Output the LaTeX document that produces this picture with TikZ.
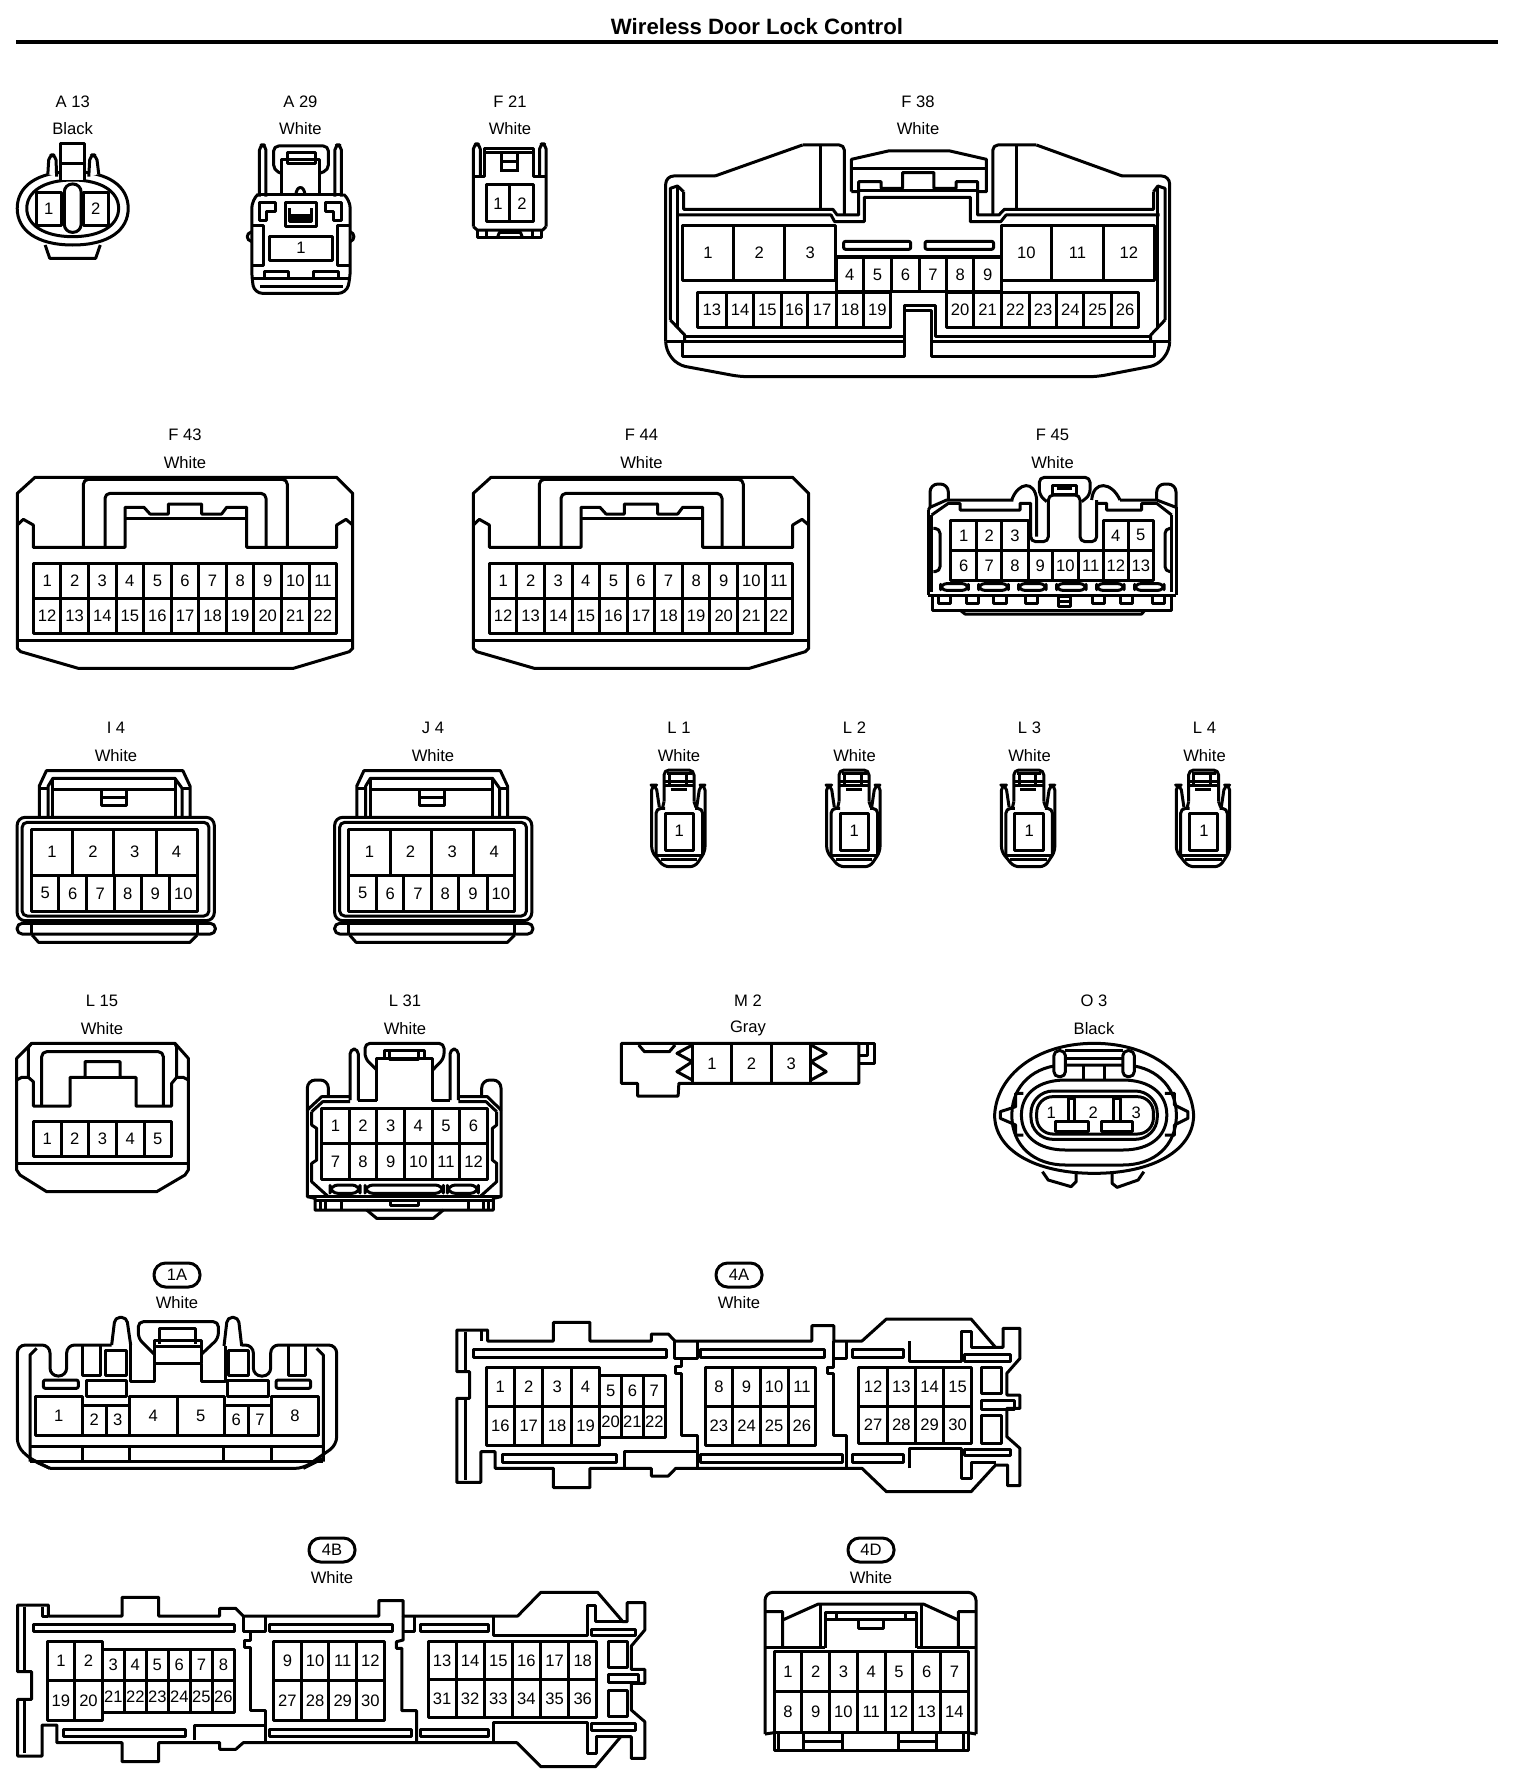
\documentclass[tikz,border=0pt]{standalone}
\usepackage{fontspec}
\setmainfont{Liberation Sans}
\newcounter{nodeno}
\tikzset{
 conn/.style={line width=1.5pt,line join=round},
 lab/.style={font=\fontsize{8.3}{10}\selectfont,inner sep=0pt},
 rc/.style={rounded corners=2.5pt},
 rcb/.style={rounded corners=4pt},
 slot/.style={rounded corners=1pt},
 zm/.style n args={3}{shift={(#1,#2)},x=#3,y=-0.16667pt},
 pill/.style={draw,line width=1.5pt,rounded corners=5.8pt,minimum width=23pt,minimum height=12pt,inner sep=0pt,font=\fontsize{8.3}{10}\selectfont}
}
\newcommand{\tcap}[4]{\stepcounter{nodeno}\node[lab] (cap\thenodeno) at (#1,#2) {#3};\stepcounter{nodeno}\node[lab] (col\thenodeno) at (#1,#2+27.5) {#4};}
\newcommand{\tpill}[4]{\stepcounter{nodeno}\node[pill] (pill\thenodeno) at (#1,#2) {#3};\stepcounter{nodeno}\node[lab] (col\thenodeno) at (#1,#2+27.5) {#4};}
\newcommand{\numat}[3]{\stepcounter{nodeno}\node[lab] (n\thenodeno) at (#1,#2) {#3};}
\newcommand{\cel}[5]{\draw (#1,#3) rectangle (#2,#4);\stepcounter{nodeno}\node[lab] (n\thenodeno) at ({(#1+#2)/2},{(#3+#4)/2}) {#5};}
\newcommand{\cgrid}[6]{%
 \draw (#1,#3) rectangle (#2,#4);
 \foreach \gi in {1,...,#6}{%
  \pgfmathsetmacro\gxa{#1+(#2-#1)*(\gi-1)/#6}%
  \pgfmathsetmacro\gxm{#1+(#2-#1)*(\gi-0.5)/#6}%
  \pgfmathtruncatemacro\glab{#5+\gi-1}%
  \ifnum\gi>1 \draw (\gxa,#3)--(\gxa,#4);\fi
  \stepcounter{nodeno}\node[lab] (n\thenodeno) at (\gxm,{(#3+#4)/2}) {\glab};
 }%
}
\newcommand{\formF}{%
 \draw (105,172)--(1010,172)--(1058,220)--(1058,685)--(1048,695)--(880,745)--(235,745)--(62,695)--(52,685)--(52,220)--cycle;
 \draw (52,662)--(1058,662);
 \draw (52,315)--(70,298)--(100,315)--(100,382)--(375,382)--(375,262)--(432,262)--(450,282)--(505,282)--(505,252)--(605,252)--(605,282)--(665,282)--(680,262)--(740,262)--(740,382)--(1010,382)--(1010,315)--(1038,298)--(1058,315);
 \draw (375,295)--(740,295);
 \draw[rc] (250,382)--(250,178)--(862,178)--(862,382);
 \draw[rc] (315,382)--(315,220)--(798,220)--(798,382);
 \cgrid{100}{1010}{430}{535}{1}{11}
 \cgrid{100}{1010}{535}{640}{12}{11}
}
\newcommand{\formI}{%
 \draw[rcb] (48,322) rectangle (600,632);
 \draw[rc] (62,337) rectangle (585,618);
 \draw (110,322)--(110,228)--(130,182)--(512,182)--(532,228)--(532,322);
 \draw (135,318)--(135,228)--(148,205)--(490,205)--(510,235)--(510,318);
 \draw (110,235)--(135,235) (510,235)--(532,235);
 \draw (148,205)--(148,318) (490,205)--(490,318);
 \draw (148,237)--(490,237);
 \draw (285,240)--(285,287)--(355,287)--(355,240) (285,262)--(355,262);
 \draw[rc] (48,640) rectangle (603,672);
 \draw (88,640)--(88,672) (552,640)--(552,672);
 \draw (90,675)--(108,697)--(532,697)--(552,675);
}
\newcommand{\formL}{%
 \draw[rc] (72,245)--(72,150)--(162,150)--(162,245);
 \draw (72,185)--(162,185) (72,195)--(162,195);
 \draw (88,160)--(88,195) (138,160)--(138,195) (82,160)--(155,160);
 \draw (92,208)--(140,208);
 \draw (72,245)--(68,262) (162,245)--(168,262);
 \draw[rc] (58,262)--(48,195)--(35,195)--(35,395)--(72,440)--(165,440)--(195,395)--(195,195)--(180,195)--(170,262);
 \draw[rc] (48,405)--(48,265)--(75,265) (165,265)--(188,265)--(188,405);
 \draw (48,405)--(188,405) (62,418)--(172,418);
 \draw (75,280) rectangle (160,390);
 \numat{118}{332}{1}
}
\begin{document}
\begin{tikzpicture}[x=0.5pt,y=-0.5pt,conn]
\useasboundingbox (0,0) rectangle (1520,1780);
\fill[white] (0,0) rectangle (1520,1780);
\node[font=\bfseries\fontsize{11.1}{13}\selectfont,inner sep=0pt] (title) at (757,27) {Wireless Door Lock Control};
\coordinate (ruleL) at (16,42); \coordinate (ruleR) at (1498,42);
\draw[line width=2.2pt] (ruleL)--(ruleR);
% captions
\tcap{72.7}{101.5}{A 13}{Black}
\tcap{300.4}{101.5}{A 29}{White}
\tcap{510}{101.5}{F 21}{White}
\tcap{918}{101.5}{F 38}{White}
\tcap{185}{435}{F 43}{White}
\tcap{641.5}{435}{F 44}{White}
\tcap{1052.5}{435}{F 45}{White}
\tcap{116}{728}{I 4}{White}
\tcap{433}{728}{J 4}{White}
\tcap{679}{728}{L 1}{White}
\tcap{854.5}{728}{L 2}{White}
\tcap{1029.5}{728}{L 3}{White}
\tcap{1204.5}{728}{L 4}{White}
\tcap{102}{1001}{L 15}{White}
\tcap{405}{1001}{L 31}{White}
\tcap{748}{1001}{M 2}{Gray}
\tcap{1094}{1001}{O 3}{Black}
\tpill{177}{1275}{1A}{White}
\tpill{739}{1275}{4A}{White}
\tpill{332}{1550}{4B}{White}
\tpill{871}{1550}{4D}{White}
% A13
\begin{scope}[zm={0}{0}{0.19135pt}]
 \draw (190,515) .. controls (285,515) and (335,560) .. (335,625) .. controls (335,690) and (285,735) .. (190,735) .. controls (95,735) and (45,690) .. (45,625) .. controls (45,560) and (95,515) .. (190,515);
 \draw (190,540) .. controls (265,540) and (310,575) .. (310,625) .. controls (310,675) and (265,710) .. (190,710) .. controls (115,710) and (70,675) .. (70,625) .. controls (70,575) and (115,540) .. (190,540);
 \draw[rc,fill=white] (125,522)--(128,465)--(146,465)--(148,530);
 \draw[rc,fill=white] (232,530)--(235,465)--(252,465)--(258,522);
 \draw[fill=white] (158,540)--(158,432)--(222,432)--(222,540);
 \draw (158,490)--(222,490);
 \draw[rounded corners=4pt] (168,552) rectangle (212,697);
 \draw (118,735)--(130,775)--(250,775)--(262,735);
 \cel{95}{160}{577}{677}{1}
 \cel{218}{283}{577}{677}{2}
\end{scope}
% A29
\begin{scope}[zm={0}{0}{0.19135pt}]
 \draw[rcb] (672,585)--(658,600)--(658,835)--(665,880)--(905,880)--(915,835)--(915,600)--(900,585);
 \draw[rc] (678,590)--(678,435)--(695,435)--(695,590);
 \draw[rc] (875,590)--(875,435)--(892,435)--(892,590);
 \draw (678,585)--(892,585);
 \draw[rc] (735,520)--(715,510)--(715,438)--(858,438)--(858,510)--(835,520);
 \draw (735,585)--(735,480)--(835,480)--(835,585);
 \draw (752,458) rectangle (825,490);
 \draw (773,585) .. controls (775,555) and (795,555) .. (797,585);
 \draw (745,608) rectangle (828,680);
 \draw (757,625)--(757,665)--(815,665)--(815,625) (757,645)--(815,645) (757,655)--(815,655);
 \draw (678,608)--(720,608)--(720,635)--(697,635)--(697,660)--(678,660)--cycle;
 \draw (850,608)--(893,608)--(893,660)--(872,660)--(872,635)--(850,635)--cycle;
 \draw (658,675)--(688,675)--(688,795)--(658,795);
 \draw (915,675)--(882,675)--(882,795)--(915,795);
 \draw (658,695)..controls (642,700) and (642,720)..(658,725);
 \draw (915,695)..controls (928,700) and (928,720)..(915,725);
 \cel{703}{870}{708}{780}{1}
 \draw (660,835)--(915,835) (680,858)--(895,858);
 \draw (690,835)--(690,815)--(755,815)--(755,835) (820,835)--(820,815)--(885,815)--(885,835);
\end{scope}
% F21
\begin{scope}[zm={0}{0}{0.19135pt}]
 \draw[rc] (1237,680)--(1237,432)--(1255,432)--(1255,530);
 \draw[rc] (1410,530)--(1410,432)--(1427,432)--(1427,680);
 \draw (1237,680)--(1247,690)--(1418,690)--(1427,680);
 \draw (1237,530)--(1265,530)--(1265,445)--(1395,445)--(1395,530)--(1427,530);
 \draw (1265,458)--(1395,458);
 \draw (1310,460)--(1310,515) (1352,460)--(1352,515) (1310,485)--(1352,485) (1310,512)--(1352,512);
 \cgrid{1270}{1395}{555}{665}{1}{2}
 \draw (1247,690)--(1247,712)--(1415,712)--(1415,690);
 \draw (1270,690)--(1270,712) (1392,690)--(1392,712);
 \draw (1300,712)--(1305,697)--(1360,697)--(1365,712);
\end{scope}
% F38
\begin{scope}[zm={640}{80}{0.17857pt}]
 \draw[rcb] (72,785)--(72,288)--(210,288);
 \draw (210,288)--(455,195);
 \draw[rc] (455,195)--(572,195)--(572,405);
 \draw[rcb] (72,785)--(72,810)--(105,855)--(280,890)--(1280,890)--(1450,855)--(1483,810)--(1483,785);
 \draw[rcb] (1483,785)--(1483,288)--(1350,288);
 \draw (1350,288)--(1110,195);
 \draw[rc] (1110,195)--(988,195)--(988,405);
 \draw (505,195)--(505,388) (1055,195)--(1055,388);
 \draw (122,335)--(122,388)--(540,388)--(552,405)--(612,405)--(612,305)--(675,305)--(675,325)--(735,325)--(735,278)--(823,278)--(823,325)--(885,325)--(885,305)--(945,305)--(945,405)--(1005,405)--(1020,388)--(1438,388)--(1438,335);
 \draw (105,405)--(535,405)--(545,425)--(628,425)--(628,352)--(925,352)--(925,425)--(1010,425)--(1025,405)--(1455,405);
 \draw (592,335)--(592,238)--(695,213)--(868,213)--(970,238)--(970,335)--(945,335) (592,335)--(612,335);
 \draw (592,265)--(970,265);
 \draw (612,332)--(945,332);
 \draw (85,720)--(85,325)--(105,318)--(122,335);
 \draw (105,325)--(105,745);
 \draw (85,720)--(125,765)--(125,785);
 \draw (1470,720)--(1470,325)--(1450,318)--(1438,335);
 \draw (1450,325)--(1450,745);
 \draw (1470,720)--(1430,765)--(1430,785);
 \draw (125,770)--(740,770)--(740,675)--(828,675)--(828,770)--(1430,770);
 \draw (72,785)--(740,785) (820,785)--(1483,785);
 \draw (120,785)--(120,830)--(740,830)--(740,690)--(815,690)--(815,830)--(1440,830)--(1440,785);
 \foreach \a/\b/\l in {118/262/1,262/405/2,405/548/3,1012/1152/10,1152/1298/11,1298/1440/12}{\cel{\a}{\b}{437}{602}{\l}}
 \draw (548,530)--(1012,530);
 \foreach \a/\b/\l in {550/625/4,625/705/5,705/782/6,782/858/7,858/935/8,935/1012/9}{\cel{\a}{\b}{533}{635}{\l}}
 \foreach \a/\b/\l in {160/242/13,242/318/14,318/395/15,395/470/16,470/550/17,550/627/18,627/702/19,858/935/20,935/1012/21,1012/1090/22,1090/1167/23,1167/1243/24,1243/1320/25,1320/1397/26}{\cel{\a}{\b}{637}{742}{\l}}
 \draw[slot] (570,484) rectangle (758,508);
 \draw[slot] (798,484) rectangle (990,508);
\end{scope}
% F43 F44
\begin{scope}[zm={0}{420}{0.16667pt}] \formF \end{scope}
\begin{scope}[zm={456}{420}{0.16667pt}] \formF \end{scope}
% F45
\begin{scope}[zm={900}{420}{0.16667pt}]
 \draw[rcb] (90,262)--(90,192)--(145,192)--(145,240);
 \draw[rcb] (770,240)--(770,192)--(828,192)--(828,262);
 \draw (85,270)--(90,262)--(140,240)--(340,240);
 \draw (828,262)--(770,240)--(660,240);
 \draw (85,270)--(85,525) (828,262)--(828,525);
 \draw (85,525)--(828,525);
 \draw (95,285)--(95,515) (815,285)--(815,515);
 \draw (95,285)--(145,250)--(180,250)--(180,270)--(360,270)--(360,250)--(392,250)--(392,350);
 \draw (815,285)--(770,250)--(725,250)--(725,270)--(620,270)--(620,250)--(590,250);
 \draw (335,240) .. controls (355,185) and (405,180) .. (410,240)--(410,350);
 \draw (660,240) .. controls (635,185) and (580,180) .. (575,240);
 \draw[rc] (392,340)--(392,365)--(445,365)--(445,225)--(540,225)--(540,365)--(590,365)--(590,240);
 \draw[rc] (440,245)--(418,225)--(418,172)--(570,172)--(570,225)--(545,245);
 \draw (458,195) rectangle (530,222);
 \draw (470,205)--(515,205);
 \draw[rc] (100,325)--(120,325)--(120,455)--(100,455);
 \draw[rc] (810,325)--(795,325)--(795,455)--(810,455);
 \draw (98,530)--(98,570)--(815,570)--(815,530);
 \draw (180,570)--(195,582)--(725,582)--(735,570);
 \foreach \a/\b in {115/150,198/235,280/318,375/412,578/612,662/698,757/792}{\draw (\a,530)--(\a,550)--(\b,550)--(\b,530);}
 \draw (475,530) rectangle (510,558) (475,545)--(510,545);
 \foreach \a/\b in {122/205,236/325,356/438,470/558,590/672,704/792}{\draw[rounded corners=3pt] (\a,491) rectangle (\b,511);}
 \foreach \a/\b/\l in {152/230/1,230/305/2,305/385/3,610/685/4,685/760/5}{\cel{\a}{\b}{300}{392}{\l}}
 \foreach \a/\b/\l in {152/230/6,230/305/7,305/385/8,385/457/9,457/535/10,535/610/11,610/685/12,685/760/13}{\cel{\a}{\b}{392}{480}{\l}}
\end{scope}
% I4, J4
\begin{scope}[zm={0}{710}{0.17857pt}]
 \formI
 \foreach \a/\b/\l in {88/203/1,203/318/2,318/437/3,437/552/4}{\cel{\a}{\b}{358}{495}{\l}}
 \foreach \a/\b/\l in {88/165/5,165/242/6,242/320/7,320/395/8,395/475/9,475/552/10}{\cel{\a}{\b}{495}{605}{\l}}
\end{scope}
\begin{scope}[zm={317.5}{710}{0.17857pt}]
 \formI
 \foreach \a/\b/\l in {88/203/1,203/318/2,318/437/3,437/552/4}{\cel{\a}{\b}{358}{495}{\l}}
 \foreach \a/\b/\l in {88/165/5,165/242/6,242/320/7,320/395/8,395/475/9,475/552/10}{\cel{\a}{\b}{495}{605}{\l}}
\end{scope}
% L1-L4
\begin{scope}[zm={640}{720}{0.16667pt}] \formL \end{scope}
\begin{scope}[zm={815}{720}{0.16667pt}] \formL \end{scope}
\begin{scope}[zm={989.8}{720}{0.16667pt}] \formL \end{scope}
\begin{scope}[zm={1164.6}{720}{0.16667pt}] \formL \end{scope}
% L15
\begin{scope}[zm={0}{990}{0.16667pt}]
 \draw (95,160)--(525,160)--(565,205)--(565,540)--(555,555)--(470,605)--(140,605)--(60,555)--(50,540)--(50,205)--cycle;
 \draw (50,520)--(565,520);
 \draw (50,270)--(65,262)--(85,262)--(100,275)--(100,348)--(210,348)--(210,262)--(255,262)--(255,215)--(360,215)--(360,262)--(408,262)--(408,348)--(515,348)--(515,280)--(530,262)--(550,262)--(565,270);
 \draw (255,262)--(360,262);
 \draw (95,160)--(85,172)--(85,262) (525,160)--(530,172)--(530,262);
 \draw[rc] (125,345)--(125,185)--(490,185)--(490,345);
 \cgrid{100}{515}{393}{498}{1}{5}
\end{scope}
% L31
\begin{scope}[zm={0}{990}{0.16667pt}]
 \draw[rc] (1130,240)--(1095,205)--(1095,160)--(1332,160)--(1332,205)--(1298,240);
 \draw (1152,205)--(1152,182)--(1272,182)--(1272,205);
 \draw (1168,185)--(1168,208)--(1255,208)--(1255,185);
 \draw (1130,332)--(1130,205)--(1298,205)--(1298,332)--(1350,332);
 \draw (1130,332)--(1075,332);
 \draw[rc] (1050,330)--(1050,177)--(1075,177)--(1075,332);
 \draw[rc] (1350,330)--(1350,177)--(1375,177)--(1375,330);
 \draw[rcb] (922,360)--(922,270)--(985,270)--(985,320);
 \draw[rcb] (1445,320)--(1445,270)--(1503,270)--(1503,360);
 \draw (922,360)--(922,620)--(945,625)--(945,660)--(1480,660)--(1480,625)--(1503,620)--(1503,360);
 \draw (922,360)--(965,320)--(1050,320) (1503,360)--(1462,320)--(1375,320);
 \draw (935,365)--(968,335)--(1050,335) (1490,365)--(1458,335)--(1375,335);
 \draw (935,365)--(935,405)--(950,415)--(950,510)--(935,520)--(935,575)--(985,620);
 \draw (1490,365)--(1490,405)--(1477,415)--(1477,510)--(1490,520)--(1490,575)--(1440,620);
 \cgrid{965}{1462}{355}{460}{1}{6}
 \cgrid{965}{1462}{460}{568}{7}{6}
 \foreach \a/\b in {990/1080,1095/1330,1342/1435}{\draw[rounded corners=4pt] (\a,585) rectangle (\b,610);}
 \draw (922,620)--(1503,620) (945,632)--(1480,632);
 \foreach \a in {960,975,1025,1405,1450,1465}{\draw (\a,632)--(\a,658);}
 \draw (1170,632)--(1170,645)--(1255,645)--(1255,632);
 \draw (1100,660)--(1130,685)--(1300,685)--(1330,660);
\end{scope}
% M2
\begin{scope}[zm={610}{990}{0.19135pt}]
 \draw (30,160)--(650,160)--(650,280)--(180,280)--(178,318)--(72,318)--(72,280)--(30,280)--cycle;
 \draw (75,165)--(90,185)--(155,185)--(170,165);
 \draw (650,160)--(690,160)--(690,220)--(650,220) (650,195)--(672,195)--(672,160);
 \cgrid{215}{525}{160}{280}{1}{3}
 \draw (215,165)--(175,190)--(215,215)--(175,245)--(215,270);
 \draw (525,165)--(565,190)--(525,215)--(565,245)--(525,270);
\end{scope}
% O3
\begin{scope}[zm={610}{990}{0.19135pt}]
 \draw (1005,375) .. controls (1010,260) and (1110,160) .. (1265,160) .. controls (1420,160) and (1520,260) .. (1525,375) .. controls (1525,480) and (1420,550) .. (1265,550) .. controls (1110,550) and (1005,480) .. (1005,375);
 \draw (1050,375) .. controls (1050,285) and (1110,225) .. (1190,225) -- (1340,225) .. controls (1420,225) and (1480,285) .. (1480,375) .. controls (1480,470) and (1420,525) .. (1340,525) -- (1190,525) .. controls (1110,525) and (1050,470) .. (1050,375);
 \draw[fill=white] (1075,375) .. controls (1075,310) and (1120,270) .. (1190,270) -- (1340,270) .. controls (1410,270) and (1455,310) .. (1455,375) .. controls (1455,440) and (1410,480) .. (1340,480) -- (1190,480) .. controls (1120,480) and (1075,440) .. (1075,375);
 \draw[rounded corners=11pt] (1100,303) rectangle (1430,448);
 \draw[rounded corners=8pt] (1115,320) rectangle (1420,432);
 \draw (1080,310)--(1060,310)--(1060,350)--(1020,365)--(1020,385)--(1060,405)--(1060,435)--(1080,435);
 \draw (1450,310)--(1475,310)--(1475,345)--(1510,365)--(1510,385)--(1475,405)--(1475,435)--(1450,435);
 \draw[rc,fill=white] (1190,182)--(1160,182)--(1160,260)--(1190,260)--cycle;
 \draw[rc,fill=white] (1340,182)--(1370,182)--(1370,260)--(1340,260)--cycle;
 \draw (1190,182)--(1340,182) (1190,205)--(1340,205);
 \draw (1238,228)--(1238,270) (1292,228)--(1292,270);
 \draw (1197,395)--(1197,325)--(1215,325)--(1215,395) (1315,395)--(1315,325)--(1335,325)--(1335,395);
 \draw (1165,395) rectangle (1250,425) (1285,395) rectangle (1365,425);
 \draw (1130,545)--(1145,570)--(1205,590)--(1218,575)--(1218,550);
 \draw (1312,550)--(1312,580)--(1325,592)--(1380,570)--(1395,545);
 \numat{1153}{368}{1}\numat{1263}{368}{2}\numat{1375}{368}{3}
\end{scope}
% 1A
\begin{scope}[zm={0}{1260}{0.16667pt}]
 \draw[rcb] (150,625)--(95,600)--(52,560)--(52,255)--(150,255)--(150,348)--(200,348)--(200,255)--(335,255);
 \draw[rc] (335,255)--(345,172)--(380,172)--(392,255);
 \draw (392,255)--(392,365)--(462,365)--(462,310)--(605,310)--(605,365)--(675,365)--(675,258);
 \draw[rc] (672,258)--(682,172)--(715,172)--(725,258);
 \draw[rcb] (725,255)--(760,255)--(760,348)--(812,348)--(812,255)--(1010,255)--(1010,555)--(960,590)--(910,625)--(150,625);
 \draw[rc] (462,282)--(415,235)--(415,185)--(655,185)--(655,235)--(605,282);
 \draw (478,252)--(478,205)--(585,205)--(585,252);
 \draw (462,310)--(462,240)--(605,240)--(605,310) (462,258)--(605,258);
 \draw (90,605)--(90,285)--(110,265) (970,605)--(970,285)--(950,265);
 \draw (248,255)--(248,345)--(300,345)--(300,255);
 \draw (315,272) rectangle (380,345) (685,272) rectangle (745,345);
 \draw (865,255)--(865,345)--(915,345)--(915,255);
 \draw[slot] (130,360) rectangle (235,385);
 \draw (258,360) rectangle (380,408) (682,360) rectangle (805,408);
 \draw[slot] (828,360) rectangle (932,385);
 \foreach \a/\b/\l in {105/248/1,388/532/4,532/672/5,815/955/8}{\cel{\a}{\b}{408}{525}{\l}}
 \foreach \a/\b/\l in {248/318/2,318/388/3,672/745/6,745/815/7}{\cel{\a}{\b}{435}{525}{\l}}
 \draw (90,560)--(970,560) (90,603)--(970,603);
 \foreach \a in {248,388,670,815}{\draw (\a,560)--(\a,603);}
 \draw (90,595)--(150,625) (970,595)--(910,625);
\end{scope}
% 4A
\begin{scope}[zm={450}{1260}{0.18811pt}]
 \draw (18,335)--(18,210)--(100,210)--(100,243)--(275,243)--(275,187)--(372,187)--(372,243)--(535,243)--(535,222)--(580,222)--(598,243)--(962,243)--(962,197)--(1020,197)--(1020,243)--(1095,243)--(1160,177)--(1385,177)--(1450,262)--(1470,262)--(1470,205)--(1515,205)--(1515,295)--(1480,340)--(1480,405)--(1515,405)--(1515,445)--(1480,445)--(1480,530)--(1515,565)--(1515,677)--(1482,677)--(1482,615)--(1450,615)--(1385,695)--(1160,695)--(1095,625)--(600,625)--(580,648)--(535,648)--(535,625)--(372,625)--(372,683)--(275,683)--(275,625)--(120,625)--(120,575)--(82,575)--(82,667)--(18,667)--(18,415)--(52,415)--(52,335)--cycle;
 \draw (85,210)--(85,243);
 \draw (40,215)--(40,335) (40,420)--(40,660);
 \foreach \a/\b in {62/575,667/995,1070/1205}{\draw (\a,268) rectangle (\b,292);}
 \foreach \a/\b in {140/442,665/1043,1070/1205}{\draw (\a,583) rectangle (\b,607);}
 \draw (598,243)--(598,295)--(615,295)--(615,320)--(600,320)--(600,340)--(615,340)--(615,525)--(658,525)--(658,625);
 \draw (658,243)--(658,295)--(598,295);
 \draw (1020,243)--(1020,322)--(1003,322)--(1003,340)--(1020,340)--(1020,525)--(1055,525)--(1055,625);
 \draw (1055,243)--(1055,295)--(1020,295);
 \draw (1222,243)--(1222,303)--(1360,303)--(1360,215)--(1385,215)--(1385,262)--(1450,262);
 \draw (1222,625)--(1222,565)--(1360,565)--(1360,655)--(1385,655)--(1385,607)--(1450,607);
 \draw (465,625)--(465,575)--(655,575);
 \draw (1368,283) rectangle (1490,303) (1368,568) rectangle (1490,587);
 \draw (1412,322) rectangle (1465,400) (1412,420) rectangle (1500,447) (1412,465) rectangle (1465,550);
 \cgrid{96}{398}{322}{440}{1}{4}
 \cgrid{96}{398}{440}{556}{16}{4}
 \cgrid{398}{572}{347}{440}{5}{3}
 \cgrid{398}{572}{440}{532}{20}{3}
 \cgrid{678}{972}{322}{440}{8}{4}
 \cgrid{678}{972}{440}{556}{23}{4}
 \cgrid{1087}{1387}{322}{438}{12}{4}
 \cgrid{1087}{1387}{438}{550}{27}{4}
\end{scope}
% 4B
\begin{scope}[zm={0}{1540}{0.21044pt}]
 \draw (42,395)--(42,195)--(115,195)--(115,228)--(290,228)--(290,172)--(377,172)--(377,228)--(522,228)--(522,205)--(560,205)--(578,228)--(900,228)--(900,182)--(958,182)--(958,228)--(1230,228)--(1285,157)--(1420,157)--(1480,245)--(1490,245)--(1490,188)--(1532,188)--(1532,270)--(1500,318)--(1500,388)--(1532,388)--(1532,430)--(1500,430)--(1500,510)--(1532,545)--(1532,655)--(1500,655)--(1500,590)--(1475,590)--(1415,680)--(1285,680)--(1228,608)--(578,608)--(560,628)--(522,628)--(522,608)--(377,608)--(377,665)--(290,665)--(290,608)--(135,608)--(135,555)--(100,555)--(100,648)--(42,648)--(42,478)--(75,478)--(75,395)--cycle;
 \draw (58,200)--(58,395) (58,480)--(58,640) (100,200)--(100,228)--(115,228);
 \foreach \a/\b in {80/558,640/932,1000/1160}{\draw (\a,252) rectangle (\b,275);}
 \foreach \a/\b in {152/440,640/978,1000/1160}{\draw (\a,567) rectangle (\b,590);}
 \draw (578,228)--(578,275)--(595,275)--(595,300)--(580,300)--(580,322)--(595,322)--(595,512)--(632,512)--(632,608);
 \draw (632,228)--(632,275)--(578,275);
 \draw (958,228)--(958,300)--(942,305)--(942,325)--(955,325)--(955,512)--(990,512)--(990,608);
 \draw (985,228)--(985,275)--(958,275);
 \draw (1172,228)--(1172,285)--(1395,285)--(1395,195)--(1415,195)--(1415,245)--(1480,245);
 \draw (1172,608)--(1172,547)--(1395,547)--(1395,640)--(1418,640)--(1418,590)--(1475,590);
 \draw (462,600)--(462,557)--(632,557);
 \draw (1405,267) rectangle (1510,287) (1405,550) rectangle (1510,570);
 \draw (1445,305) rectangle (1490,383) (1445,403) rectangle (1518,428) (1445,450) rectangle (1490,530);
 \cgrid{112}{243}{305}{422}{1}{2}
 \cgrid{112}{243}{422}{540}{19}{2}
 \cgrid{243}{557}{327}{422}{3}{6}
 \cgrid{243}{557}{422}{518}{21}{6}
 \cgrid{650}{913}{305}{422}{9}{4}
 \cgrid{650}{913}{422}{540}{27}{4}
 \cgrid{1017}{1418}{305}{418}{13}{6}
 \cgrid{1017}{1418}{418}{532}{31}{6}
\end{scope}
% 4D
\begin{scope}[zm={750}{1540}{0.16667pt}]
 \draw[rcb] (45,582)--(45,157)--(678,157)--(678,582);
 \draw (45,582)--(72,578) (655,578)--(678,582);
 \draw (72,578)--(72,630)--(655,630)--(655,578);
 \draw (45,215)--(98,215)--(98,322) (98,240)--(205,192)--(520,192)--(625,240) (678,215)--(625,215)--(625,322);
 \draw (45,322)--(225,322) (500,322)--(678,322);
 \draw (210,192)--(210,322) (515,192)--(515,322);
 \draw (225,325)--(225,218)--(500,218)--(500,325);
 \draw (225,238)--(500,238) (258,218)--(258,238) (465,218)--(465,238);
 \draw (325,240)--(325,265)--(400,265)--(400,240);
 \cgrid{72}{655}{335}{455}{1}{7}
 \cgrid{72}{655}{455}{578}{8}{7}
 \foreach \a in {85,160,278,445,560,640}{\draw (\a,578)--(\a,630);}
 \draw (160,605)--(278,605) (445,605)--(560,605);
\end{scope}
\end{tikzpicture}
\end{document}
